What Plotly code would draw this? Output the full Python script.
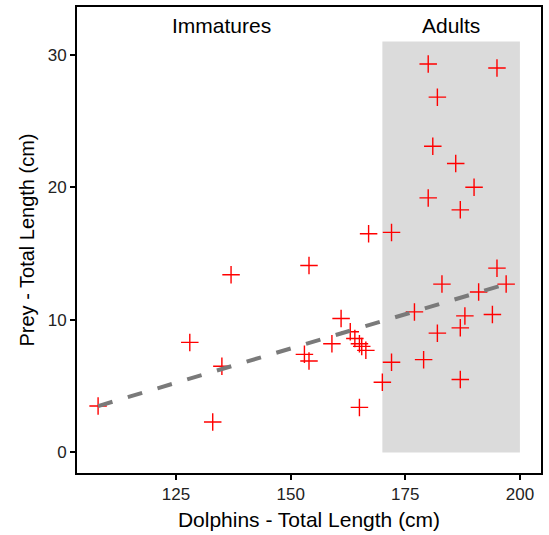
import plotly.graph_objects as go

# Data
dolphin_len = [108, 128, 133, 135, 137, 154, 153, 154, 159, 161, 163, 164, 165, 165.5, 166.4,
               165, 167, 170, 172, 172, 177, 179, 180, 180, 181, 182, 182, 183, 186, 187,
               187, 187, 188, 190, 191, 194, 195, 195, 197]
prey_len = [3.5, 8.3, 2.3, 6.5, 13.4, 14.1, 7.4, 6.9, 8.2, 10.1, 9.1, 8.6, 8.2, 8.0, 7.7,
            3.4, 16.5, 5.3, 16.6, 6.8, 10.6, 7.0, 29.3, 19.2, 23.1, 26.8, 9.0, 12.7, 21.8, 18.3,
            9.4, 5.5, 10.3, 20.0, 12.1, 10.4, 13.9, 29.0, 12.7]

# trend line as drawn in the reference (end points)
trend_x = [108, 197]
trend_y = [3.5, 12.7]

adult_zone_x = [170, 200]
adult_zone_y = [0, 31]
group_labels = ["Immatures", "Adults"]
group_label_x = [135, 185]
group_label_y = [32.2, 32.2]

x_ticks = [125, 150, 175, 200]
y_ticks = [0, 10, 20, 30]

fig = go.Figure()

fig.add_shape(type="rect", x0=adult_zone_x[0], x1=adult_zone_x[1],
              y0=adult_zone_y[0], y1=adult_zone_y[1],
              fillcolor="#DBDBDB", line=dict(width=0), layer="below")

fig.add_trace(go.Scatter(
    x=dolphin_len, y=prey_len, mode="markers",
    marker=dict(symbol="cross-thin", size=12.5, line=dict(color="#FF0000", width=1.4)),
    showlegend=False, hoverinfo="x+y"))

fig.add_trace(go.Scatter(
    x=trend_x, y=trend_y, mode="lines",
    line=dict(color="#7A7A7A", width=4, dash="15px,16px"),
    showlegend=False, hoverinfo="skip"))

for t, tx, ty in zip(group_labels, group_label_x, group_label_y):
    fig.add_annotation(x=tx, y=ty, text=t, showarrow=False,
                       xanchor="center", yanchor="middle",
                       font=dict(family="Liberation Sans, Arial", size=21, color="black"))

fig.update_layout(
    width=549, height=535,
    margin=dict(l=77, r=8, t=7, b=62),
    plot_bgcolor="white", paper_bgcolor="white",
    font=dict(family="Liberation Sans, Arial", color="black"),
)

fig.update_xaxes(
    range=[103.4, 204.6], tickvals=x_ticks, ticktext=[str(v) for v in x_ticks],
    showgrid=False, zeroline=False,
    showline=True, linecolor="black", linewidth=2, mirror=True,
    ticks="outside", ticklen=5, tickwidth=1.5, tickcolor="black",
    tickfont=dict(size=17, color="#222222"),
    title=dict(text="Dolphins - Total Length (cm)", font=dict(size=21, color="black"), standoff=9),
    automargin=False,
)
fig.update_yaxes(
    range=[-1.55, 33.6], tickvals=y_ticks, ticktext=[str(v) for v in y_ticks],
    showgrid=False, zeroline=False,
    showline=True, linecolor="black", linewidth=2, mirror=True,
    ticks="outside", ticklen=5, tickwidth=1.5, tickcolor="black",
    tickfont=dict(size=17, color="#222222"),
    title=dict(text="Prey - Total Length (cm)", font=dict(size=20, color="black"), standoff=8),
    automargin=False,
)

fig.write_html("out.html",
               config={"displayModeBar": False},
               post_script="document.body.style.margin='0';document.body.style.padding='0';")
